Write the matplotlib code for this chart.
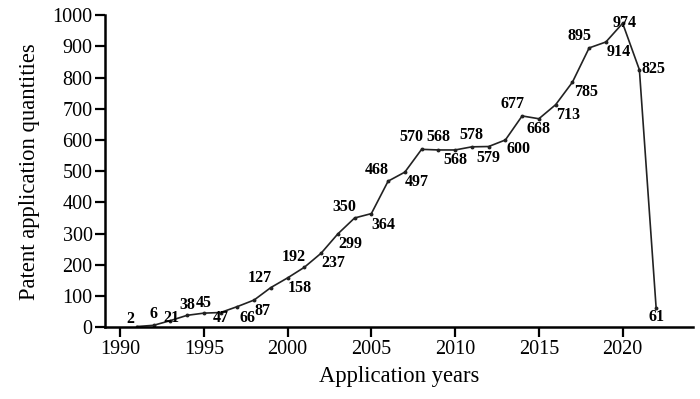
import matplotlib
matplotlib.use("Agg")
import matplotlib.pyplot as plt

years = list(range(1991, 2023))
counts = [2, 6, 21, 38, 45, 47, 66, 87, 127, 158, 192, 237, 299, 350, 364, 468,
          497, 570, 568, 568, 578, 579, 600, 677, 668, 713, 785, 895, 914, 974, 825, 61]
# label offsets in pixels (dx right, dy up)
label_dx = [-6, 0, 1, 0, 0, 0, 10, 8, -11, 12, -11, 12, 13, -10, 12, -11,
            12, -10, 0, 0, 0, 0, 13, -10, 0, 12, 14, -10, 13, 2, 14, 0]
label_dy = [8, 11, 3, 10, 10, -5, -11, -11, 10, -10, 10, -10, -10, 11, -11, 11,
            -10, 12, 13, -10, 12, -11, -9, 12, -10, -10, -10, 12, -10, 0, 1, -9]

plt.rcParams['font.family'] = ['Liberation Serif', 'DejaVu Serif']

fig = plt.figure(figsize=(7, 3.99), dpi=100)
ax = fig.add_axes([0.15, 0.18, 0.84, 0.782])
ax.plot(years, counts, color='#222222', lw=1.2, marker='o', markersize=1.8)

for x, y, dx, dy in zip(years, counts, label_dx, label_dy):
    ax.annotate(str(y), (x, y), xytext=(dx, dy), textcoords='offset pixels',
                ha='center', va='center', fontsize=11.5, fontweight='bold')

ax.set_xlim(1989.1, 2024.2)
ax.set_ylim(0, 1000)
ax.set_xticks(range(1990, 2021, 5))
ax.set_yticks(range(0, 1001, 100))
for s in ['top', 'right']:
    ax.spines[s].set_visible(False)
for s in ['left', 'bottom']:
    ax.spines[s].set_linewidth(1.8)
ax.tick_params(axis='both', direction='out', length=7, width=1.6, labelsize=14.5, pad=2)
ax.set_xlabel('Application years', fontsize=16.3, labelpad=5)
ax.set_ylabel('Patent application quantities', fontsize=16.3, labelpad=9)

fig.savefig('out.png', dpi=100)
